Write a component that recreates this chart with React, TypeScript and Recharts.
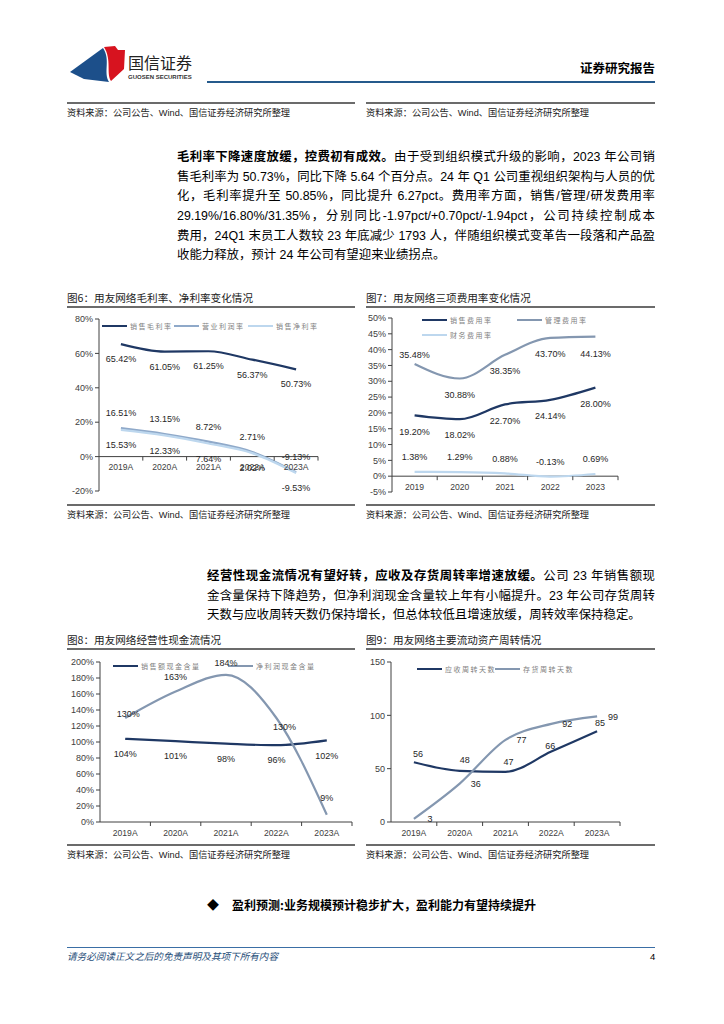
import React from 'react';
import { LineChart, Line, XAxis, YAxis, ReferenceLine, LabelList } from 'recharts';

// ---------- data ----------
const years = ['2019A', '2020A', '2021A', '2022A', '2023A'];
const yearsPlain = ['2019', '2020', '2021', '2022', '2023'];

// Fig 6
const grossMargin = [65.42, 61.05, 61.25, 56.37, 50.73];
const opMargin = [16.51, 13.15, 8.72, 2.71, -9.13];
const netMargin = [15.53, 12.33, 7.64, 2.02, -9.53];
const ticks6 = [-20, 0, 20, 40, 60, 80];

// Fig 7
const sellingRate = [19.2, 18.02, 22.7, 24.14, 28.0];
const adminRate = [35.48, 30.88, 38.35, 43.7, 44.13];
const financeRate = [1.38, 1.29, 0.88, -0.13, 0.69];
const ticks7 = [-5, 0, 5, 10, 15, 20, 25, 30, 35, 40, 45, 50];

// Fig 8
const salesCash = [104, 101, 98, 96, 102];
const profitCash = [130, 163, 184, 130, 9];
const ticks8 = [0, 20, 40, 60, 80, 100, 120, 140, 160, 180, 200];

// Fig 9
const receivableDays = [56, 48, 47, 66, 85];
const inventoryDays = [3, 36, 77, 92, 99];
const ticks9 = [0, 50, 100, 150];

// ---------- styles ----------
const FONT = "'Liberation Sans', Arial, 'Noto Sans CJK SC', sans-serif";
const AXIS = '#404040';
const DARK = '#1f3864';
const MID = '#8497b0';
const LIGHT = '#bdd7ee';
const RULE = '#6b6b6b';

type Geo = { left: number; top: number; width: number; height: number; mt: number; mr: number; mb: number; yW: number; xH: number };
type Place = [number, number];
type Series = { key: string; name: string; color: string; values: number[]; place: Place | Place[] };

const makeLabel = (fmt: (v: number) => string, place: Place | Place[]) => (props: any) => {
  const { x, y, value, index } = props;
  if (x == null || y == null) return null;
  const p: Place = Array.isArray(place[0]) ? (place as Place[])[index] : (place as Place);
  return (
    <text x={x + p[0]} y={y + p[1]} dy="0.35em" textAnchor="middle" fontSize={9} fill="#262626" fontFamily={FONT}>
      {fmt(value)}
    </text>
  );
};

const makeCatTick = (axisY: number, band: number, labelDy: number) => (props: any) => {
  const { x, payload } = props;
  return (
    <g>
      <line x1={x + band / 2} x2={x + band / 2} y1={axisY} y2={axisY + 4} stroke={AXIS} strokeWidth={1} />
      <text x={x} y={axisY + labelDy} dy="0.35em" textAnchor="middle" fontSize={8.6} fill="#404040" fontFamily={FONT}>
        {payload.value}
      </text>
    </g>
  );
};

function ChartBlock(props: {
  geo: Geo;
  categories: string[];
  series: Series[];
  domain: [number, number];
  ticks: number[];
  yFmt: (v: number) => string;
  labelFmt: (v: number) => string;
  zeroAxis: boolean;
  legendPos: { x: number; y: number }[];
  labelDy: number;
}) {
  const { geo, categories, series, domain, ticks, yFmt, labelFmt, zeroAxis, legendPos, labelDy } = props;
  const pw = geo.width - geo.yW - geo.mr;
  const ph = geo.height - geo.mt - geo.mb - geo.xH;
  const band = pw / categories.length;
  const axisY = zeroAxis ? geo.mt + (domain[1] / (domain[1] - domain[0])) * ph : geo.mt + ph;
  const data = categories.map((c, i) => {
    const row: any = { cat: c };
    series.forEach((s) => (row[s.key] = s.values[i]));
    return row;
  });
  return (
    <div style={{ position: 'absolute', left: geo.left, top: geo.top, width: geo.width, height: geo.height }}>
      {series.map((s, i) => (
        <React.Fragment key={s.key}>
          <div style={{ position: 'absolute', left: legendPos[i].x, top: legendPos[i].y - 1, width: 25, height: 2, background: s.color }} />
          <div
            style={{
              position: 'absolute',
              left: legendPos[i].x + 28,
              top: legendPos[i].y - 6,
              height: 12,
              lineHeight: '12px',
              fontSize: 7,
              letterSpacing: 1.5,
              color: '#7f7f7f',
              whiteSpace: 'nowrap',
              fontFamily: "'Noto Sans CJK SC', sans-serif",
            }}
          >
            {s.name}
          </div>
        </React.Fragment>
      ))}
      <div style={{ position: 'absolute', left: 0, top: 0 }}>
        <LineChart width={geo.width} height={geo.height} data={data} margin={{ top: geo.mt, right: geo.mr, bottom: geo.mb, left: 0 }}>
          <XAxis
            dataKey="cat"
            height={geo.xH}
            padding={{ left: band / 2, right: band / 2 }}
            axisLine={zeroAxis ? false : { stroke: AXIS }}
            tickLine={false}
            tick={makeCatTick(axisY, band, labelDy)}
            interval={0}
          />
          <YAxis
            width={geo.yW}
            domain={domain}
            ticks={ticks}
            interval={0}
            tickFormatter={yFmt}
            axisLine={{ stroke: AXIS }}
            tickLine={{ stroke: AXIS }}
            tickSize={4}
            tick={{ fontSize: 9, fill: '#404040', fontFamily: FONT }}
            allowDataOverflow
          />
          {zeroAxis && <ReferenceLine y={0} stroke={AXIS} strokeWidth={1} />}
          {series.map((s) => (
            <Line key={s.key} type="monotone" dataKey={s.key} stroke={s.color} strokeWidth={2.2} dot={false} isAnimationActive={false}>
              <LabelList dataKey={s.key} content={makeLabel(labelFmt, s.place)} />
            </Line>
          ))}
        </LineChart>
      </div>
    </div>
  );
}

// ---------- static helpers ----------
function HLine({ x1, x2, y, color = RULE, w = 1.3 }: { x1: number; x2: number; y: number; color?: string; w?: number }) {
  return <div style={{ position: 'absolute', left: x1, top: y - w / 2, width: x2 - x1, height: w, background: color }} />;
}

function T(props: { x: number; y: number; size: number; children: React.ReactNode; bold?: boolean; color?: string; italic?: boolean; family?: string }) {
  const lh = Math.round(props.size * 1.6);
  return (
    <div
      style={{
        position: 'absolute',
        left: props.x,
        top: props.y - lh / 2,
        lineHeight: lh + 'px',
        fontSize: props.size,
        fontWeight: props.bold ? 700 : 400,
        fontStyle: props.italic ? 'italic' : 'normal',
        color: props.color || '#000',
        whiteSpace: 'nowrap',
        fontFamily: props.family || FONT,
      }}
    >
      {props.children}
    </div>
  );
}

function Para({ x, width, ys, lines }: { x: number; width: number; ys: number[]; lines: { b?: string; t: string }[] }) {
  return (
    <>
      {lines.map((ln, i) => (
        <div
          key={i}
          style={{
            position: 'absolute',
            left: x,
            top: ys[i] - 10,
            width,
            height: 20,
            lineHeight: '20px',
            fontSize: 12.4,
            color: '#000',
            textAlign: 'justify',
            textAlignLast: i === lines.length - 1 ? 'left' : 'justify',
            fontFamily: FONT,
          }}
        >
          {ln.b && <b>{ln.b}</b>}
          {ln.t}
        </div>
      ))}
    </>
  );
}

const SOURCE = '资料来源：公司公告、Wind、国信证券经济研究所整理';

const para1 = [
  { b: '毛利率下降速度放缓，控费初有成效。', t: '由于受到组织模式升级的影响，2023 年公司销' },
  { t: '售毛利率为 50.73%，同比下降 5.64 个百分点。24 年 Q1 公司重视组织架构与人员的优' },
  { t: '化，毛利率提升至 50.85%，同比提升 6.27pct。费用率方面，销售/管理/研发费用率' },
  { t: '29.19%/16.80%/31.35%，分别同比-1.97pct/+0.70pct/-1.94pct，公司持续控制成本' },
  { t: '费用，24Q1 末员工人数较 23 年底减少 1793 人，伴随组织模式变革告一段落和产品盈' },
  { t: '收能力释放，预计 24 年公司有望迎来业绩拐点。' },
];

const para2 = [
  { b: '经营性现金流情况有望好转，应收及存货周转率增速放缓。', t: '公司 23 年销售额现' },
  { t: '金含量保持下降趋势，但净利润现金含量较上年有小幅提升。23 年公司存货周转' },
  { t: '天数与应收周转天数仍保持增长，但总体较低且增速放缓，周转效率保持稳定。' },
];

const pct2 = (v: number) => v.toFixed(2) + '%';
const pct0 = (v: number) => v + '%';
const plain = (v: number) => String(v);

export default function App() {
  return (
    <div style={{ position: 'absolute', left: 0, top: 0, width: 724, height: 1024, background: '#fff', overflow: 'hidden' }}>
      {/* header */}
      <svg style={{ position: 'absolute', left: 70, top: 46 }} width={56} height={38} viewBox="0 0 56 38">
        <path d="M0,26 L33,2 C41,14 33,26 39,36 L14,33 Z" fill="#1c4f8a" />
        <path d="M34,1 L45,0 L48,4 L55,4 L54,23 L41,35 C36,27 42,14 34,1 Z" fill="#d7131f" />
      </svg>
      <T x={128} y={62} size={16} color="#222" family="'Noto Sans CJK SC', sans-serif">国信证券</T>
      <T x={128} y={77} size={6} bold color="#333">GUOSEN SECURITIES</T>
      <T x={580} y={68} size={12.5} bold family="'Noto Sans CJK SC', sans-serif">证券研究报告</T>
      <HLine x1={207} x2={655} y={82} color="#255a8c" w={2} />

      {/* row 1 sources */}
      <HLine x1={67} x2={355} y={103} />
      <HLine x1={366} x2={655} y={103} />
      <T x={67} y={113} size={9.2} color="#222">{SOURCE}</T>
      <T x={366} y={113} size={9.2} color="#222">{SOURCE}</T>

      <Para x={177} width={478} ys={[157, 177, 196, 216, 236, 255]} lines={para1} />

      {/* fig 6 / 7 titles */}
      <T x={67} y={297} size={10.6} color="#222" family="'Noto Sans CJK SC', sans-serif">图6：用友网络毛利率、净利率变化情况</T>
      <T x={366} y={297} size={10.6} color="#222" family="'Noto Sans CJK SC', sans-serif">图7：用友网络三项费用率变化情况</T>
      <HLine x1={67} x2={355} y={307} />
      <HLine x1={366} x2={655} y={307} />

      <ChartBlock
        geo={{ left: 62, top: 310, width: 290, height: 190, mt: 9, mr: 34, mb: 8, yW: 37, xH: 1 }}
        categories={years}
        series={[
          { key: 'gross', name: '销售毛利率', color: DARK, values: grossMargin, place: [0, 15] },
          { key: 'op', name: '营业利润率', color: '#8fa9c9', values: opMargin, place: [0, -15] },
          { key: 'net', name: '销售净利率', color: LIGHT, values: netMargin, place: [0, 15] },
        ]}
        domain={[-20, 80]}
        ticks={ticks6}
        yFmt={pct0}
        labelFmt={pct2}
        zeroAxis
        legendPos={[{ x: 40, y: 16 }, { x: 112, y: 16 }, { x: 186, y: 16 }]}
        labelDy={10.5}
      />

      <ChartBlock
        geo={{ left: 360, top: 309, width: 295, height: 192, mt: 9, mr: 37, mb: 8, yW: 32, xH: 1 }}
        categories={yearsPlain}
        series={[
          { key: 'sell', name: '销售费用率', color: DARK, values: sellingRate, place: [0, 16] },
          { key: 'admin', name: '管理费用率', color: MID, values: adminRate, place: [[0, -9], [0, 16], [0, 16], [0, 16], [0, 17]] },
          { key: 'fin', name: '财务费用率', color: LIGHT, values: financeRate, place: [0, -15] },
        ]}
        domain={[-5, 50]}
        ticks={ticks7}
        yFmt={pct0}
        labelFmt={pct2}
        zeroAxis
        legendPos={[{ x: 62, y: 11 }, { x: 157, y: 11 }, { x: 62, y: 26 }]}
        labelDy={10.5}
      />

      <HLine x1={67} x2={355} y={505} />
      <HLine x1={366} x2={655} y={505} />
      <T x={67} y={515} size={9.2} color="#222">{SOURCE}</T>
      <T x={366} y={515} size={9.2} color="#222">{SOURCE}</T>

      <Para x={207} width={448} ys={[576, 596, 615]} lines={para2} />

      {/* fig 8 / 9 */}
      <T x={67} y={639} size={10.6} color="#222" family="'Noto Sans CJK SC', sans-serif">图8：用友网络经营性现金流情况</T>
      <T x={366} y={639} size={10.6} color="#222" family="'Noto Sans CJK SC', sans-serif">图9：用友网络主要流动资产周转情况</T>
      <HLine x1={67} x2={355} y={649} />
      <HLine x1={366} x2={655} y={649} />

      <ChartBlock
        geo={{ left: 60, top: 652, width: 295, height: 190, mt: 10, mr: 3, mb: 0, yW: 40, xH: 20 }}
        categories={years}
        series={[
          { key: 'sales', name: '销售额现金含量', color: DARK, values: salesCash, place: [0, 15] },
          { key: 'profit', name: '净利润现金含量', color: MID, values: profitCash, place: [[3, -4], [0, -15], [0, -12], [8, 9], [0, -17]] },
        ]}
        domain={[0, 200]}
        ticks={ticks8}
        yFmt={pct0}
        labelFmt={pct0}
        zeroAxis={false}
        legendPos={[{ x: 53, y: 14 }, { x: 168, y: 14 }]}
        labelDy={11}
      />

      <ChartBlock
        geo={{ left: 360, top: 652, width: 295, height: 190, mt: 10, mr: 35, mb: 0, yW: 31, xH: 20 }}
        categories={years}
        series={[
          { key: 'recv', name: '应收周转天数', color: DARK, values: receivableDays, place: [[4, -8], [5, -11], [3, -10], [-1, -6], [3, -8]] },
          { key: 'inv', name: '存货周转天数', color: MID, values: inventoryDays, place: [16, 0] },
        ]}
        domain={[0, 150]}
        ticks={ticks9}
        yFmt={plain}
        labelFmt={plain}
        zeroAxis={false}
        legendPos={[{ x: 57, y: 17 }, { x: 135, y: 17 }]}
        labelDy={10.5}
      />

      <HLine x1={67} x2={355} y={845} />
      <HLine x1={366} x2={655} y={845} />
      <T x={67} y={855} size={9.2} color="#222">{SOURCE}</T>
      <T x={366} y={855} size={9.2} color="#222">{SOURCE}</T>

      <T x={207} y={904} size={12} bold family="'Noto Sans CJK SC', sans-serif">◆</T>
      <T x={232} y={904} size={12} bold family="'Noto Sans CJK SC', sans-serif">盈利预测:业务规模预计稳步扩大，盈利能力有望持续提升</T>

      {/* footer */}
      <HLine x1={67} x2={655} y={947} color="#3a6ea5" w={1} />
      <T x={67} y={956} size={9.6} italic color="#1f4e79" family="'Noto Sans CJK SC', sans-serif">请务必阅读正文之后的免责声明及其项下所有内容</T>
      <T x={650} y={956} size={9.5} color="#000">4</T>
    </div>
  );
}
